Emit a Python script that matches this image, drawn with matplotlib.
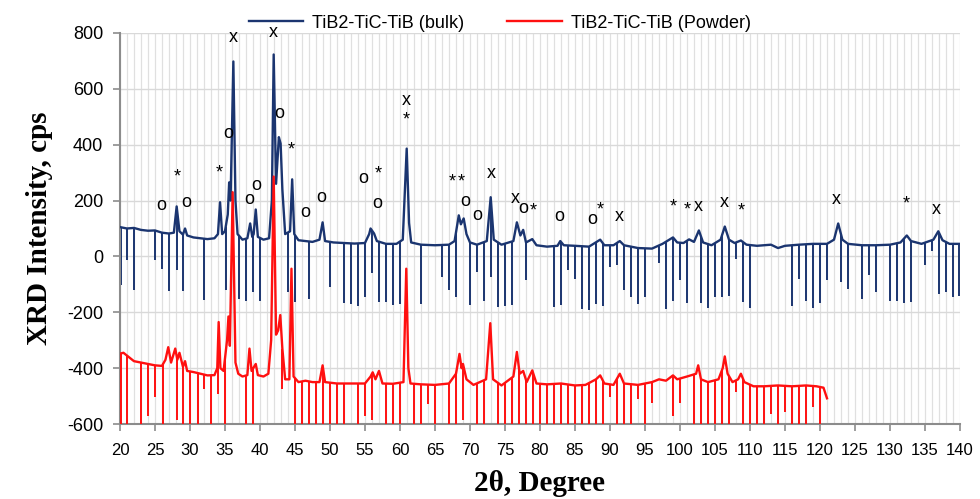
import numpy as np
import matplotlib
matplotlib.use("Agg")
import matplotlib.pyplot as plt
from matplotlib.ticker import MultipleLocator

plt.rcParams['axes.unicode_minus'] = False

# bulk pattern, key points (2theta, cps)
bulk_x = [20, 21, 22, 23, 24, 25, 26, 27, 27.7, 28.1, 28.5, 29.0, 29.3, 29.6, 30.5, 31.5, 32.5,
          33.5, 34.0, 34.3, 34.6, 35.0, 35.4, 35.6, 35.8, 36.2, 36.5, 36.8, 37.5, 38.2, 38.6,
          38.9, 39.1, 39.4, 39.7, 40.5, 41.3, 41.7, 41.96, 42.3, 42.7, 42.95, 43.2, 43.6, 44.3,
          44.6, 44.9, 45.5, 46.5, 47.5, 48.5, 48.95, 49.3, 50.5, 52, 53.5, 55, 55.6, 55.8, 56.3,
          56.7, 58, 59.5, 60.4, 60.96, 61.3, 61.6, 63, 65, 67, 67.8, 68.4, 68.7, 69.1, 69.5, 70,
          71, 72.4, 72.96, 73.4, 74.5, 76.2, 76.7, 77.2, 77.6, 78.0, 78.9, 79.5, 81, 82.5, 82.9,
          83.4, 85, 87, 88.6, 89.2, 90.5, 91.4, 92, 94, 96, 97.5, 99.0, 99.6, 100.5, 101.3, 102,
          102.7, 103.3, 104.5, 105.8, 106.4, 107.0, 107.8, 108.7, 109.5, 111, 113, 114, 115, 117,
          119, 121, 122.0, 122.6, 123.2, 124, 126, 128, 130, 131.5, 132.4, 133, 134.5, 136.2,
          136.9, 137.5, 138.5, 140]
bulk_y = [105, 100, 102, 95, 92, 93, 85, 82, 85, 179, 90, 78, 100, 75, 68, 65, 62,
          65, 80, 194, 80, 90, 150, 265, 200, 698, 200, 80, 60, 65, 118,
          70, 80, 168, 70, 60, 65, 200, 723, 260, 427, 404, 240, 80, 90,
          276, 80, 58, 55, 52, 60, 122, 55, 50, 48, 46, 48, 80, 100, 82,
          55, 45, 45, 60, 386, 120, 50, 42, 40, 42, 55, 147, 115, 136, 80, 50,
          42, 55, 212, 60, 42, 55, 122, 75, 95, 50, 62, 40, 35, 38, 55,
          40, 38, 35, 60, 40, 40, 55, 40, 30, 28, 45, 68, 50, 48, 61, 52,
          93, 50, 40, 60, 107, 60, 48, 57, 42, 38, 42, 30, 38, 42,
          45, 45, 60, 118, 60, 45, 40, 40, 42, 50, 75, 55, 45, 60,
          90, 58, 45, 45]

# powder pattern (offset), key points
powder_x = [20, 20.5, 21, 22, 23, 24, 25, 26, 26.5, 26.9, 27.3, 27.9, 28.2, 28.5, 29.0, 29.3,
            29.6, 30.5, 31.5, 32.5, 33.5, 33.9, 34.1, 34.35, 34.8, 35.3, 35.5, 35.7, 36.1, 36.5,
            36.9, 37.5, 38.2, 38.5, 38.8, 39.4, 39.7, 40.5, 41.2, 41.6, 41.96, 42.3, 42.6, 42.9,
            43.2, 43.6, 44.2, 44.5, 44.8, 45.5, 46.5, 47.5, 48.5, 48.95, 49.3, 51, 53, 55, 55.8,
            56.1, 56.5, 57.0, 57.5, 59, 60.5, 60.9, 61.2, 61.5, 63, 65, 67, 68, 68.5, 68.8, 69.0,
            69.5, 70.5, 72.3, 72.9, 73.3, 74.5, 76.2, 76.7, 77.1, 77.6, 78.1, 78.9, 79.5, 81, 83,
            85, 86.5, 88.0, 88.6, 89.2, 90.5, 91.4, 92, 94, 96, 97, 98, 99, 99.6, 101, 102.3,
            102.6, 103, 104, 105.5, 106.1, 106.4, 106.8, 107.5, 108.3, 108.7, 109.2, 110.5, 112,
            114, 116, 118, 119.5, 120.5, 121.0]
powder_y = [-348, -345, -355, -375, -380, -385, -390, -392, -370, -325, -380, -330, -370, -345, -395, -375,
            -410, -414, -420, -426, -425, -400, -235, -400, -410, -300, -215, -320, 230, -380,
            -420, -430, -425, -330, -410, -385, -425, -430, -420, -300, 286, -280, -265, -210,
            -330, -440, -440, -44, -430, -450, -445, -450, -450, -390, -450, -455, -455, -455, -430,
            -415, -440, -410, -455, -456, -450, -44, -400, -455, -458, -460, -455, -420, -349, -400, -385,
            -440, -460, -440, -239, -440, -462, -430, -342, -420, -410, -450, -408, -455, -458, -455,
            -462, -460, -440, -426, -455, -460, -420, -455, -460, -450, -440, -445, -426, -440, -430, -420,
            -390, -440, -450, -440, -400, -358, -420, -450, -440, -420, -450, -465, -465,
            -462, -465, -462, -465, -470, -508]

# downward dropouts (position, lowest value)
bulk_drop_x = [20.1, 21, 22, 25, 26, 27, 28.2, 29, 32, 35.1, 37, 38, 39, 40, 44, 45, 47, 50, 52,
               53, 54, 55, 56, 57, 58, 59, 60, 63, 66, 67, 68, 70, 71, 72, 73, 74, 75, 76, 78, 82,
               83, 84, 85, 86, 87, 88, 89, 90, 91, 92, 93, 94, 95, 97, 98, 99, 100, 101, 103, 104,
               105, 106, 107, 108, 109, 110, 116, 117, 118, 119, 120, 121, 123, 124, 126, 127,
               128, 130, 131, 132, 133, 135, 136, 137, 138, 139, 139.9]
bulk_drop_y = [-104, -12, -119, -14, -44, -125, -47, -125, -155, -122, -152, -158, -128, -158, -128,
               -164, -152, -110, -167, -170, -179, -146, -60, -164, -164, -173, -170, -170, -74,
               -119, -146, -175, -56, -158, -74, -181, -179, -175, -86, -181, -175, -50, -80,
               -187, -191, -172, -179, -38, -32, -122, -146, -170, -146, -25, -190, -158, -86,
               -167, -167, -184, -146, -146, -143, -8, -164, -185, -179, -80, -158, -184, -167,
               -86, -92, -116, -152, -68, -128, -160, -160, -167, -164, -32, 21, -136, -128,
               -146, -140]

powder_drop_x = [20.1, 21, 23, 24, 25, 26.2, 28.1, 29, 30, 31.2, 32, 33, 34, 35, 38, 39, 43.2, 45,
                 46, 47, 48, 49, 50, 51, 52, 54, 55, 56, 58, 59, 60, 62, 63, 64, 65, 67, 68, 69,
                 71, 72, 74, 75, 76, 77, 78, 79, 80, 81, 82, 83, 84, 85, 86, 87, 88, 89, 90, 91,
                 92, 93, 94, 95, 96, 99, 100, 102, 103, 104, 105, 106, 107, 108, 109, 110, 111,
                 112, 113, 114, 115, 116, 117, 118, 119, 120]
powder_drop_y = [-650, -650, -650, -573, -504, -650, -587, -650, -650, -650, -473, -650, -491, -650,
                 -650, -650, -473, -650, -650, -650, -650, -650, -650, -650, -650, -650, -573,
                 -587, -650, -650, -650, -650, -650, -527, -650, -650, -650, -587, -650, -650,
                 -650, -650, -650, -650, -650, -650, -650, -650, -650, -650, -650, -650, -650,
                 -650, -650, -650, -504, -650, -650, -650, -511, -650, -525, -573, -525, -650,
                 -650, -650, -650, -650, -650, -484, -650, -650, -650, -650, -563, -650, -557,
                 -650, -650, -650, -540, -650]

# phase labels over the peaks
label_x = [25.95, 28.2, 29.4, 34.2, 35.5, 36.2, 41.9, 42.8, 44.5, 38.5, 39.4, 46.4, 48.8, 54.8,
           56.9, 56.8, 60.9, 60.9, 67.4, 68.8, 69.3, 71.0, 73.0, 76.5, 77.6, 79.0, 82.8, 87.5,
           88.6, 91.3, 99.0, 101.0, 102.6, 106.3, 108.7, 122.3, 132.3, 136.6]
label_y = [183, 284, 194, 298, 439, 783, 801, 511, 380, 203, 254, 159, 210, 278,
           296, 189, 559, 487, 266, 266, 198, 147, 296, 206, 172, 162, 143, 132,
           168, 143, 177, 168, 179, 194, 162, 203, 189, 167]
label_txt = ['o', '*', 'o', '*', 'o', 'x', 'x', 'o', '*', 'o', 'o', 'o', 'o', 'o',
             '*', 'o', 'x', '*', '*', '*', 'o', 'o', 'x', 'x', 'o', '*', 'o', 'o',
             '*', 'x', '*', '*', 'x', 'x', '*', 'x', '*', 'x']

blue = '#1b3570'
red = '#ff1010'

fig = plt.figure(figsize=(9.8, 4.99), dpi=100)
ax = fig.add_axes([0.1224, 0.1503, 0.8572, 0.7836])

bx = np.array(bulk_x)
by = np.array(bulk_y)
px = np.array(powder_x)
py = np.array(powder_y)

ax.vlines(bulk_drop_x, bulk_drop_y, np.interp(bulk_drop_x, bx, by), color=blue, lw=1.4, zorder=2)
ax.plot(bx, by, color=blue, lw=1.7, label='TiB2-TiC-TiB (bulk)', zorder=3)
ax.vlines(powder_drop_x, powder_drop_y, np.interp(powder_drop_x, px, py), color=red, lw=1.4, zorder=4)
ax.plot(px, py, color=red, lw=1.7, label='TiB2-TiC-TiB (Powder)', zorder=5)

for x, y, t in zip(label_x, label_y, label_txt):
    ax.text(x, y, t, ha='center', va='center', fontsize=13, color='black',
            family=['Liberation Sans', 'DejaVu Sans'], zorder=6)

ax.set_xlim(20, 140)
ax.set_ylim(-600, 800)
ax.xaxis.set_major_locator(MultipleLocator(5))
ax.xaxis.set_minor_locator(MultipleLocator(1))
ax.yaxis.set_major_locator(MultipleLocator(200))

ax.grid(True, axis='y', color='#d9d9d9', lw=1.0, zorder=0)
ax.grid(True, axis='x', which='both', color='#e0e0e0', lw=0.9, zorder=0)
ax.set_axisbelow(True)

for s in ['top', 'right']:
    ax.spines[s].set_visible(False)
for s in ['left', 'bottom']:
    ax.spines[s].set_color('#8c8c8c')
    ax.spines[s].set_linewidth(1.5)

ax.tick_params(axis='both', which='major', direction='out', length=5, width=1.2,
               color='#8c8c8c', labelsize=13, labelcolor='black')
ax.tick_params(axis='x', which='major', labelsize=12, pad=9)
ax.tick_params(axis='x', which='minor', length=0)
ax.tick_params(axis='y', pad=7)
for lab in ax.get_xticklabels():
    lab.set_family(['Liberation Sans Narrow', 'Liberation Sans'])
for lab in ax.get_yticklabels():
    lab.set_family(['Liberation Sans', 'DejaVu Sans'])

ax.set_xlabel('2θ, Degree', family=['Liberation Serif', 'DejaVu Serif'], fontweight='bold',
              fontsize=21, labelpad=8)
ax.set_ylabel('XRD Intensity, cps', family=['Liberation Serif', 'DejaVu Serif'], fontweight='bold',
              fontsize=21, labelpad=10)

leg = ax.legend(loc='lower center', bbox_to_anchor=(0.452, 0.985), ncol=2, frameon=False,
                handlelength=3.0, columnspacing=2.4, handletextpad=0.5, borderaxespad=0,
                prop={'family': ['Liberation Sans', 'DejaVu Sans'], 'size': 13})

fig.savefig('out.png', dpi=100)
